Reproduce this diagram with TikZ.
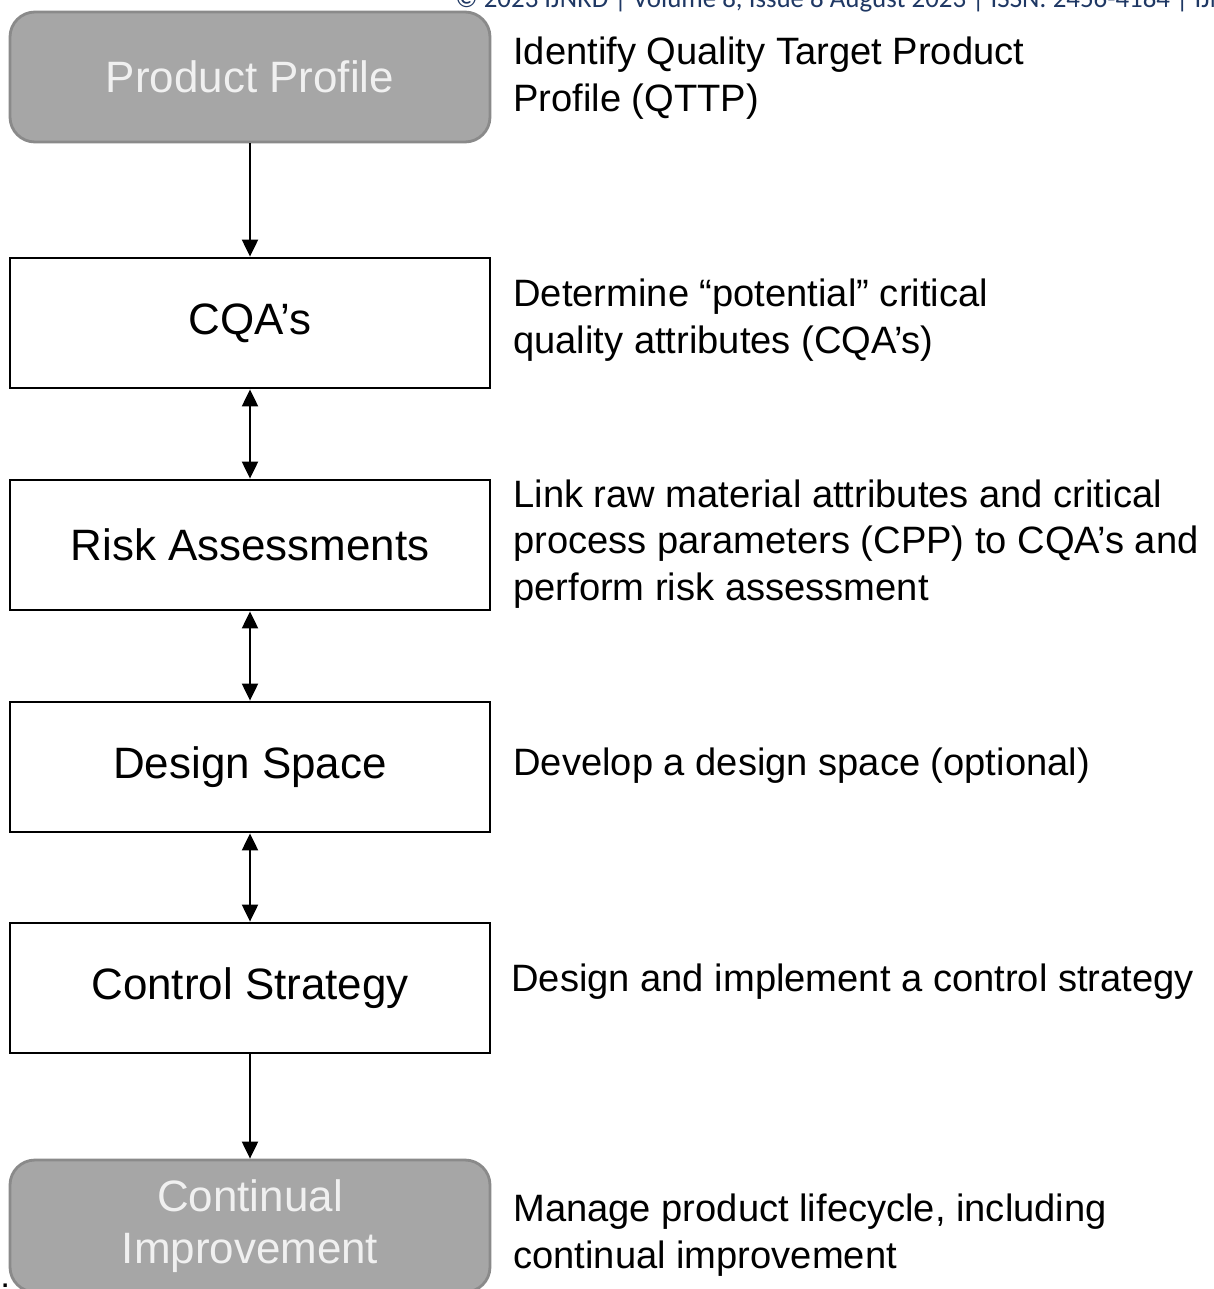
\documentclass[tikz,border=0pt]{standalone}
\usepackage{fontspec}
\setmainfont{Liberation Sans}
\newfontfamily\hdrfont{Carlito}
\usetikzlibrary{positioning}
\usetikzlibrary{arrows.meta}
\definecolor{boxgray}{RGB}{166,166,166}
\definecolor{boxedge}{RGB}{138,138,138}
\definecolor{hdrblue}{RGB}{31,56,100}
\tikzset{
    stepbox/.style = {rectangle, draw=black, line width=1.6pt, minimum width = 9.6cm, minimum height = 2.6cm, fill=white, align=center, font=\fontsize{25}{30}\selectfont},
    endbox/.style = {rectangle, rounded corners=0.5cm, draw=boxedge, line width=1.6pt, minimum width = 9.6cm, minimum height = 2.6cm, fill=boxgray, text=white!94!black, align=center, font=\fontsize{25}{30}\selectfont},
    note/.style = {anchor=west, inner sep=0pt, align=left, font=\fontsize{21.7}{26.4}\selectfont},
    edgen/.style = {-{Triangle[length=0.34cm,width=0.32cm]}, line width=1.2pt},
    edged/.style = {{Triangle[length=0.34cm,width=0.32cm]}-{Triangle[length=0.34cm,width=0.32cm]}, line width=1.2pt}
}
\begin{document}
\begin{tikzpicture}
\useasboundingbox (0,0) rectangle (24.28,-25.78);
\fill[white] (0,0) rectangle (24.28,-25.78);
% header line of the page
\node[anchor=base west, inner sep=0pt, text=hdrblue, font=\hdrfont\fontsize{15.3}{17}\selectfont] at (9.1,-0.15) (hdr) {© 2023 IJNRD | Volume 8, Issue 8 August 2023 | ISSN: 2456-4184 | IJNRD.ORG};
%
\node[endbox] at (5.0,-1.54) (pp) {Product Profile};
\node[stepbox] at (5.0,-6.46) (cqa) {CQA’s};
\node[stepbox] at (5.0,-10.9) (ra) {Risk Assessments};
\node[stepbox] at (5.0,-15.34) (ds) {Design Space};
\node[stepbox] at (5.0,-19.76) (cs) {Control Strategy};
\node[endbox, minimum height=2.64cm] at (5.0,-24.52) (ci) {Continual\\Improvement};
%
\node[note] at (10.26,-1.56) (npp) {Identify Quality Target Product\\Profile (QTTP)};
\node[note] at (10.26,-6.4) (ncqa) {Determine “potential” critical\\quality attributes (CQA’s)};
\node[note] at (10.26,-10.88) (nra) {Link raw material attributes and critical\\process parameters (CPP) to CQA’s and\\perform risk assessment};
\node[note] at (10.26,-15.32) (nds) {Develop a design space (optional)};
\node[note] at (10.22,-19.64) (ncs) {Design and implement a control strategy};
\node[note] at (10.26,-24.7) (nci) {Manage product lifecycle, including\\continual improvement};
%
\node[anchor=west, inner sep=0pt, font=\fontsize{20}{24}\selectfont] at (0.0,-25.86) (dots) {:};
%
\draw[edgen] (pp) -- (cqa);
\draw[edged] (cqa) -- (ra);
\draw[edged] (ra) -- (ds);
\draw[edged] (ds) -- (cs);
\draw[edgen] (cs) -- (ci);
\end{tikzpicture}
\end{document}
